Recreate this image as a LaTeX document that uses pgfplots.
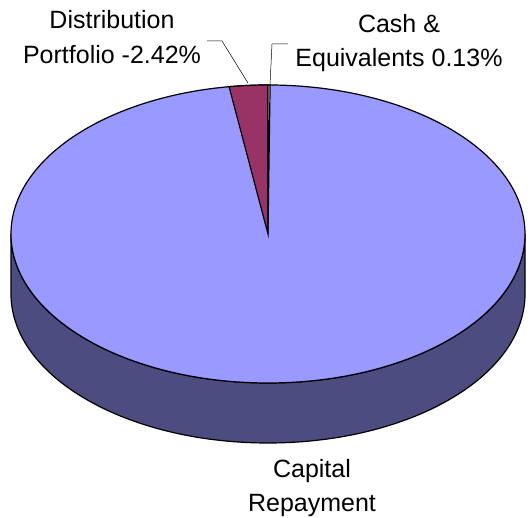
\documentclass[border=0pt]{standalone}
\usepackage{pgfplots}
\pgfplotsset{compat=1.18}
\usepackage{pgfplotstable}
\usepackage{fontspec}
\setmainfont{Liberation Sans}
\definecolor{topcol}{HTML}{9999FF}
\definecolor{sidecol}{HTML}{4C4C80}
\definecolor{magcol}{HTML}{993366}
\definecolor{cashcol}{HTML}{FFFFCC}
\pgfplotstableread{
label value
Capital 97.45
Distribution 2.42
Cash 0.13
}\piedata
\pgfplotstablegetelem{1}{value}\of\piedata
\let\vdist\pgfplotsretval
\pgfplotstablegetelem{2}{value}\of\piedata
\let\vcash\pgfplotsretval
\pgfmathsetmacro{\adist}{90+3.6*\vdist}
\pgfmathsetmacro{\acash}{90-3.6*\vcash}
\tikzset{lbl/.style={anchor=base,inner sep=0pt,font=\fontsize{25}{34}\selectfont}}
\begin{document}
\begin{tikzpicture}
\begin{axis}[width=531pt,height=518pt,scale only axis,
  xmin=0,xmax=531,ymin=0,ymax=518,axis lines=none,clip=false,
  ticks=none]
\addplot[draw=none] coordinates {(0,0) (531,518)};
% side
\fill[sidecol,draw=black,line width=1.2pt] (axis cs:11,284) -- (axis cs:11,224)
  arc[start angle=180,end angle=360,x radius=257,y radius=149]
  -- (axis cs:525,284)
  arc[start angle=0,end angle=-180,x radius=257,y radius=149] -- cycle;
% top
\filldraw[fill=topcol,draw=black,line width=1.2pt] (axis cs:268,284) ellipse[x radius=257,y radius=149];
% distribution slice
\filldraw[fill=magcol,draw=black,line width=1.2pt] (axis cs:268,284) -- (axis cs:268,433)
  arc[start angle=90,end angle=\adist,x radius=257,y radius=149] -- cycle;
% cash slice
\filldraw[fill=cashcol,draw=black,line width=1.2pt] (axis cs:268,284) -- (axis cs:268,433)
  arc[start angle=90,end angle=\acash,x radius=257,y radius=149] -- cycle;
% leader lines
\draw[black,line width=0.5pt] (axis cs:207,477) -- (axis cs:222,477) -- (axis cs:248,435);
\draw[black,line width=0.5pt] (axis cs:288,474) -- (axis cs:272,474) -- (axis cs:270,433);
% labels
\node[lbl] at (axis cs:112,489) {Distribution};
\node[lbl] at (axis cs:112,454) {Portfolio -2.42\%};
\node[lbl] at (axis cs:399,485) {Cash \&};
\node[lbl] at (axis cs:399,451) {Equivalents 0.13\%};
\node[lbl] at (axis cs:312,40) {Capital};
\node[lbl] at (axis cs:312,6) {Repayment};
\end{axis}
\end{tikzpicture}
\end{document}
